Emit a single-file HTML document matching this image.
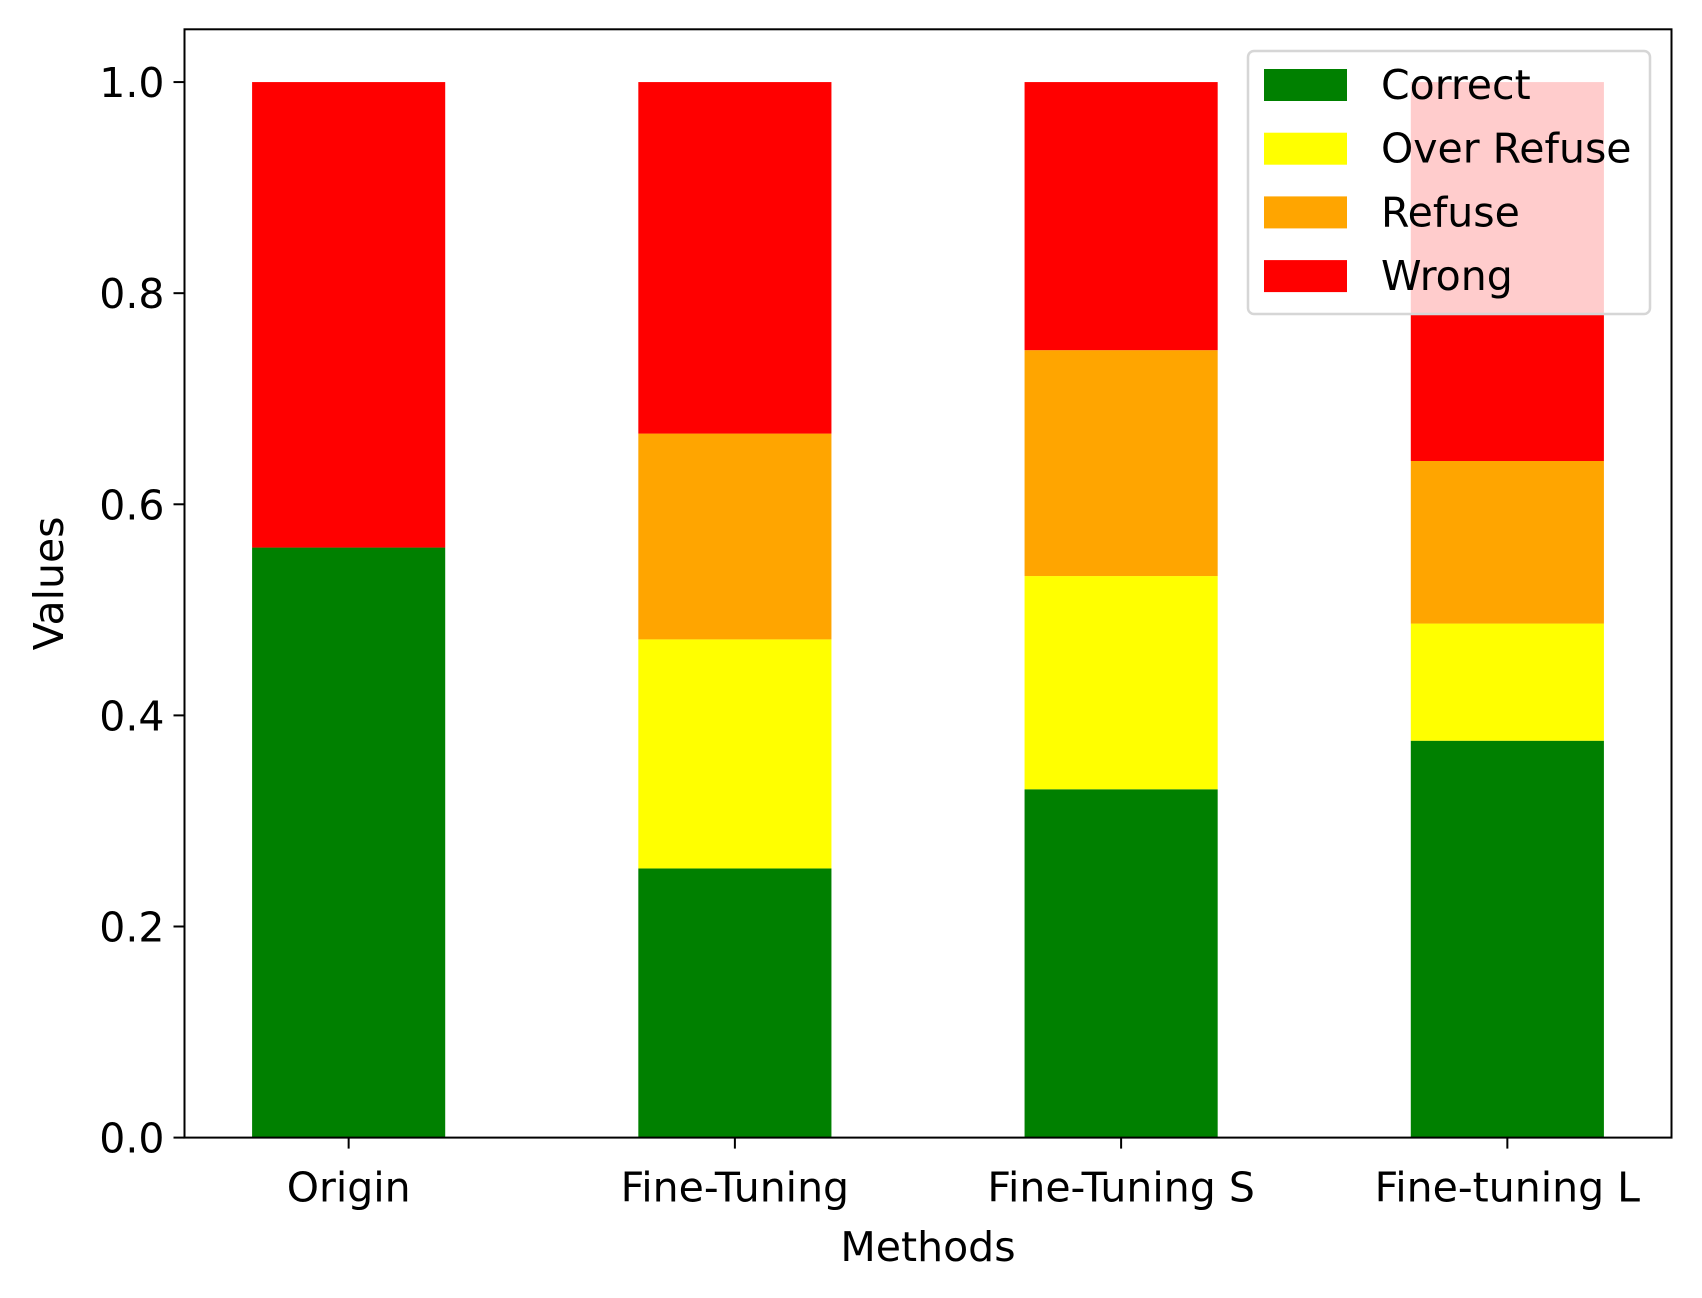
<!DOCTYPE html>
<html><head><meta charset="utf-8"><style>
html,body{margin:0;padding:0;background:#fff;}
svg{display:block;font-family:"DejaVu Sans","Liberation Sans",sans-serif;}
</style></head><body>
<svg id="chart" width="1702" height="1298" viewBox="0 0 1702 1298" xmlns="http://www.w3.org/2000/svg">
<rect width="1702" height="1298" fill="#fff"/>
<g id="bars"></g>
<g id="axes"></g>
<g id="legend"></g>
</svg>
<script>
const categories = ["Origin", "Fine-Tuning", "Fine-Tuning S", "Fine-tuning L"];
const correct = [0.559, 0.255, 0.330, 0.376];
const overRefuse = [0.0, 0.217, 0.202, 0.111];
const refuse = [0.0, 0.195, 0.214, 0.154];
const wrong = [0.441, 0.333, 0.254, 0.359];
const seriesNames = ["Correct", "Over Refuse", "Refuse", "Wrong"];
const seriesColors = ["#008000", "#ffff00", "#ffa500", "#ff0000"];
const yTicks = [0.0, 0.2, 0.4, 0.6, 0.8, 1.0];
const yTickLabels = ["0.0", "0.2", "0.4", "0.6", "0.8", "1.0"];

const NS = "http://www.w3.org/2000/svg";
const L = 184.5, R = 1671.5, T = 29.3, B = 1137.6;
const xMin = -0.425, xMax = 3.425, yMin = 0, yMax = 1.05;
const xs = v => L + (v - xMin) / (xMax - xMin) * (R - L);
const ys = v => B - (v - yMin) / (yMax - yMin) * (B - T);
const barW = 0.5;
const FS = 41;
function mk(tag, attrs, parent, text) {
  const e = document.createElementNS(NS, tag);
  for (const k in attrs) e.setAttribute(k, attrs[k]);
  if (text !== undefined) e.textContent = text;
  parent.appendChild(e);
  return e;
}
const series = [correct, overRefuse, refuse, wrong];
const barsG = document.getElementById('bars');
const keys = ["correct", "over-refuse", "refuse", "wrong"];
categories.forEach((c, i) => {
  let base = 0;
  series.forEach((s, j) => {
    const v = s[i];
    if (v > 0) {
      const r = mk('rect', {x: xs(i - barW / 2), y: ys(base + v), width: xs(i + barW / 2) - xs(i - barW / 2), height: ys(base) - ys(base + v), fill: seriesColors[j]}, barsG);
      
      
    }
    base += v;
  });
});
const ax = document.getElementById('axes');
const frame = mk('rect', {x: L, y: T, width: R - L, height: B - T, fill: 'none', stroke: '#000', 'stroke-width': 2}, ax);


yTicks.forEach((t, i) => {
  const y = ys(t);
  mk('line', {x1: L - 11, x2: L, y1: y, y2: y, stroke: '#000', 'stroke-width': 2}, ax);
  const tx = mk('text', {x: L - 20, y: y + 15, 'text-anchor': 'end', 'font-size': FS, fill: '#000'}, ax, yTickLabels[i]);
  
  
});
categories.forEach((c, i) => {
  const x = xs(i);
  mk('line', {x1: x, x2: x, y1: B, y2: B + 11, stroke: '#000', 'stroke-width': 2}, ax);
  const tx = mk('text', {x: x, y: B + 64, 'text-anchor': 'middle', 'font-size': FS, fill: '#000'}, ax, c);
  
  
});
const xt = mk('text', {x: (L + R) / 2, y: 1261, 'text-anchor': 'middle', 'font-size': FS, fill: '#000'}, ax, 'Methods');


const yt = mk('text', {x: 0, y: 0, 'text-anchor': 'middle', 'font-size': FS, fill: '#000', transform: 'translate(63,' + ((T + B) / 2) + ') rotate(-90)'}, ax, 'Values');



const lg = document.getElementById('legend');
const box = mk('rect', {x: 1248, y: 51, width: 402, height: 263, rx: 6, fill: 'rgba(255,255,255,0.8)', stroke: '#d6d6d6', 'stroke-width': 2.5}, lg);


seriesNames.forEach((n, j) => {
  const cy = 85 + j * 63.7;
  const p = mk('rect', {x: 1264, y: cy - 16, width: 83, height: 32, fill: seriesColors[j]}, lg);
  
  
  const t = mk('text', {x: 1381, y: cy + 14, 'font-size': FS, fill: '#000'}, lg, n);
  
  
});
</script>
</body></html>
